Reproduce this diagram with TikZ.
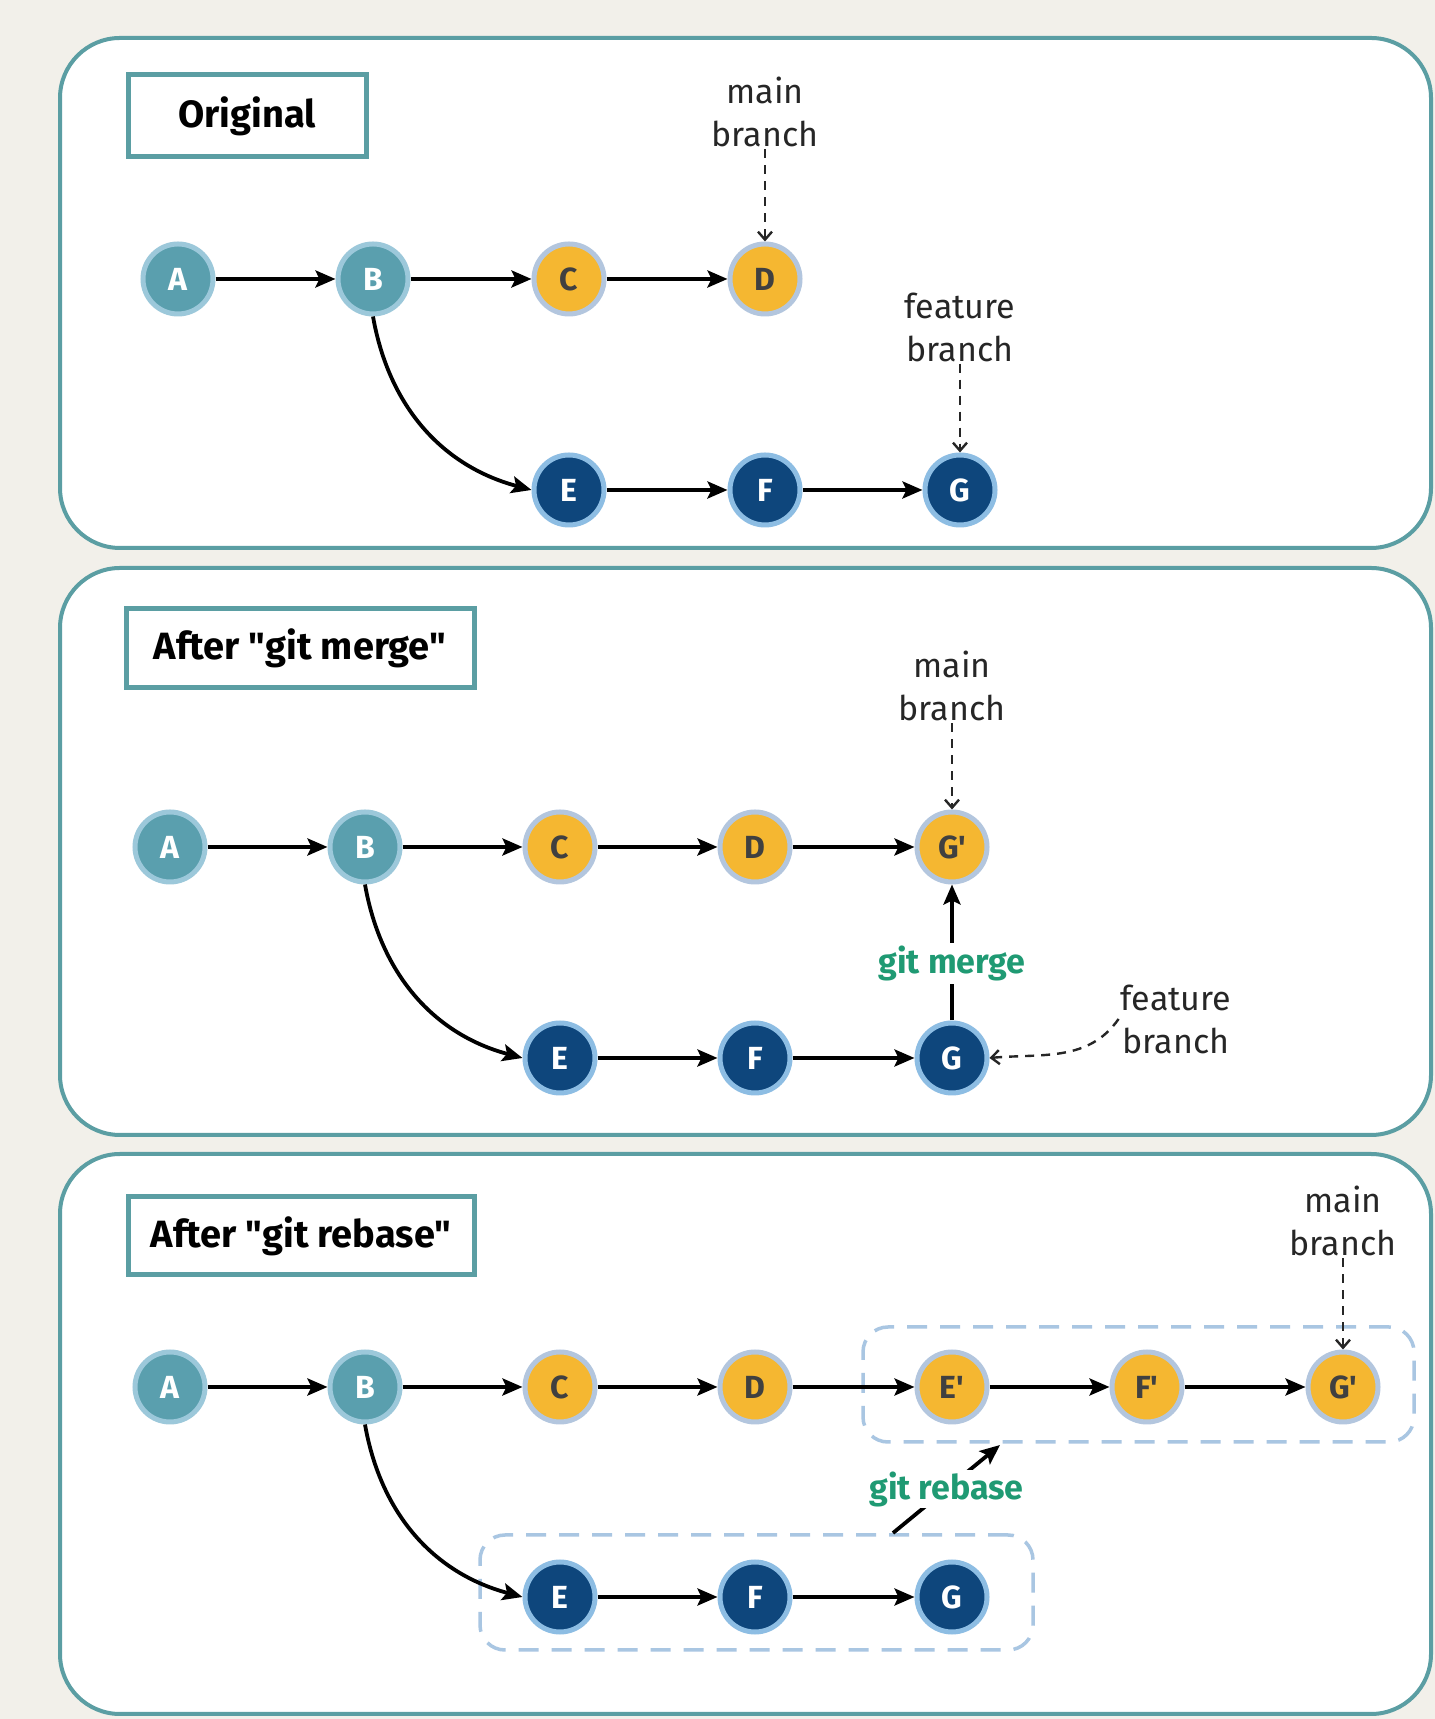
\documentclass[tikz,border=0pt]{standalone}
\usepackage{fontspec}
\setmainfont{Fira Sans}[Ligatures=TeXOff]
\usetikzlibrary{arrows.meta}
\definecolor{bg}{HTML}{F2F0EA}
\definecolor{panel}{HTML}{5B9EA3}
\definecolor{tealfill}{HTML}{5A9FAE}
\definecolor{tealhalo}{HTML}{9CC8DA}
\definecolor{yelfill}{HTML}{F5B731}
\definecolor{yelhalo}{HTML}{B3C6DE}
\definecolor{navyfill}{HTML}{0E467C}
\definecolor{navyhalo}{HTML}{8DBDE3}
\definecolor{gitgreen}{HTML}{1F9A73}
\definecolor{dashblue}{HTML}{A9C6E2}
\begin{document}
\begin{tikzpicture}[x=1pt,y=1pt,
  panelbox/.style={draw=panel, line width=4pt, rounded corners=60pt, fill=white},
  titlebox/.style={draw=panel, line width=5pt, fill=white, inner sep=0pt,
    font=\bfseries\fontsize{38}{42}\selectfont},
  commit/.style={circle, minimum size=70pt, inner sep=0pt, line width=5pt,
    font=\bfseries\fontsize{32}{32}\selectfont},
  cA/.style={commit, fill=tealfill, draw=tealhalo, text=white},
  cY/.style={commit, fill=yelfill, draw=yelhalo, text=black!75},
  cN/.style={commit, fill=navyfill, draw=navyhalo, text=white},
  link/.style={-{Stealth[length=20pt,width=17pt,inset=4pt]}, line width=3.8pt, black},
  pointer/.style={-{Straight Barb[length=8pt,width=14pt]}, line width=2.4pt,
    dash pattern=on 9pt off 7pt, black!85},
  lbl/.style={align=center, font=\fontsize{34}{43}\selectfont, text=black!85, inner sep=2pt},
  gitlbl/.style={fill=white, text=gitgreen, inner sep=3pt, font=\bfseries\fontsize{34}{40}\selectfont},
  dashbox/.style={draw=dashblue, line width=3.5pt, dash pattern=on 20pt off 13pt,
    rounded corners=25pt, inner sep=0pt}
]
\clip (0,0) rectangle (1435,1719);
\fill[bg] (0,0) rectangle (1435,1719);

% ---------------- Panel 1: Original ----------------
\draw[panelbox] (60,1171) rectangle (1431,1681);
\node[titlebox, minimum width=238pt, minimum height=82pt] (t1) at (247,1603) {Original};
\node[cA] (a1) at (178,1440) {A};
\node[cA] (b1) at (373,1440) {B};
\node[cY] (c1) at (569,1440) {C};
\node[cY] (d1) at (765,1440) {D};
\node[cN] (e1) at (569,1229) {E};
\node[cN] (f1) at (765,1229) {F};
\node[cN] (g1) at (960,1229) {G};
\draw[link] (a1) -- (b1);
\draw[link] (b1) -- (c1);
\draw[link] (c1) -- (d1);
\draw[link] (b1.south) to[out=-80,in=165] (e1.west);
\draw[link] (e1) -- (f1);
\draw[link] (f1) -- (g1);
\node[lbl] (m1) at (765,1607) {main\\branch};
\draw[pointer] (m1) -- (d1);
\node[lbl] (fb1) at (960,1392) {feature\\branch};
\draw[pointer] (fb1) -- (g1);

% ---------------- Panel 2: After git merge ----------------
\draw[panelbox] (60,584) rectangle (1431,1151);
\node[titlebox, minimum width=348pt, minimum height=79pt] (t2) at (300,1071) {After "git merge"};
\node[cA] (a2) at (170,872) {A};
\node[cA] (b2) at (365,872) {B};
\node[cY] (c2) at (560,872) {C};
\node[cY] (d2) at (755,872) {D};
\node[cY] (gp2) at (952,872) {G'};
\node[cN] (e2) at (560,661) {E};
\node[cN] (f2) at (755,661) {F};
\node[cN] (g2) at (952,661) {G};
\draw[link] (a2) -- (b2);
\draw[link] (b2) -- (c2);
\draw[link] (c2) -- (d2);
\draw[link] (d2) -- (gp2);
\draw[link] (b2.south) to[out=-80,in=165] (e2.west);
\draw[link] (e2) -- (f2);
\draw[link] (f2) -- (g2);
\draw[link] (g2) -- node[gitlbl, pos=0.42] (gm2) {git merge} (gp2);
\node[lbl] (m2) at (952,1033) {main\\branch};
\draw[pointer] (m2) -- (gp2);
\node[lbl] (fb2) at (1176,700) {feature\\branch};
\draw[pointer] (fb2.west) to[out=235,in=5] (g2.east);

% ---------------- Panel 3: After git rebase ----------------
\draw[panelbox] (60,5) rectangle (1431,565);
\node[titlebox, minimum width=346pt, minimum height=78pt] (t3) at (301,483) {After "git rebase"};
\node[dashbox, minimum width=551pt, minimum height=115pt] (up3) at (1138.5,334.5) {};
\node[dashbox, minimum width=553pt, minimum height=115pt] (lo3) at (756.5,126.5) {};
\node[cA] (a3) at (170,332) {A};
\node[cA] (b3) at (365,332) {B};
\node[cY] (c3) at (560,332) {C};
\node[cY] (d3) at (755,332) {D};
\node[cY] (ep3) at (952,332) {E'};
\node[cY] (fp3) at (1147,332) {F'};
\node[cY] (gp3) at (1343,332) {G'};
\node[cN] (e3) at (560,122) {E};
\node[cN] (f3) at (755,122) {F};
\node[cN] (g3) at (952,122) {G};
\draw[link] (a3) -- (b3);
\draw[link] (b3) -- (c3);
\draw[link] (c3) -- (d3);
\draw[link] (d3) -- (ep3);
\draw[link] (ep3) -- (fp3);
\draw[link] (fp3) -- (gp3);
\draw[link] (b3.south) to[out=-80,in=165] (e3.west);
\draw[link] (e3) -- (f3);
\draw[link] (f3) -- (g3);
\node[lbl] (m3) at (1343,498) {main\\branch};
\draw[pointer] (m3) -- (gp3);
\coordinate (rbs) at (893,186);
\coordinate (rbe) at (1000,274);
\draw[link] (rbs) -- node[gitlbl, inner sep=1pt] (rb3) {git rebase} (rbe);
\end{tikzpicture}
\end{document}
